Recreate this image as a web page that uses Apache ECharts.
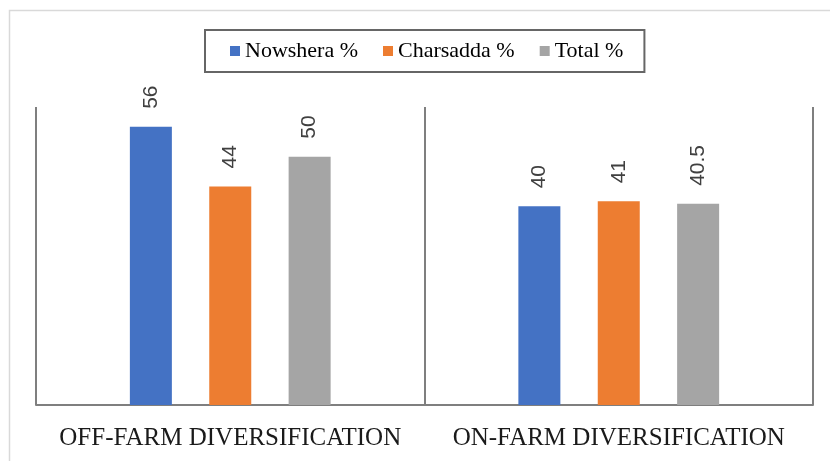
<!DOCTYPE html>
<html>
<head>
<meta charset="utf-8">
<script src="https://cdn.jsdelivr.net/npm/echarts@6/dist/echarts.min.js"></script>
<style>
html, body { margin: 0; padding: 0; background: #fff; }
#main { width: 830px; height: 461px; }
</style>
</head>
<body>
<div id="main"></div>
<script>
// categories and values
const categories = ['OFF-FARM DIVERSIFICATION', 'ON-FARM DIVERSIFICATION'];
const nowshera = [56, 40];
const charsadda = [44, 41];
const total = [50, 40.5];
const seriesNames = ['Nowshera %', 'Charsadda %', 'Total %'];
const colors = ['#4472C4', '#ED7D31', '#A5A5A5'];

let chart = echarts.init(document.getElementById('main'));

const barLabel = {
    show: true,
    position: 'top',
    distance: 18,
    rotate: 90,
    align: 'left',
    verticalAlign: 'middle',
    fontFamily: 'Liberation Sans',
    fontSize: 21,
    color: '#404040'
};

chart.setOption({
    animation: false,
    color: colors,
    graphic: [{
        // outer frame of the picture
        type: 'rect',
        shape: { x: 9.5, y: 10.5, width: 840, height: 470 },
        style: { fill: 'none', stroke: '#d9d9d9', lineWidth: 1.5 },
        silent: true
    }],
    legend: {
        data: seriesNames,
        left: 205,
        top: 30,
        icon: 'rect',
        itemWidth: 10,
        itemHeight: 10,
        itemGap: 25,
        padding: [9, 21, 9, 25],
        borderColor: '#666',
        borderWidth: 2,
        textStyle: {
            fontFamily: 'Liberation Serif',
            fontSize: 22,
            lineHeight: 24,
            color: '#000'
        }
    },
    grid: {
        left: 36,
        right: 17,
        top: 107,
        bottom: 56
    },
    xAxis: {
        type: 'category',
        data: categories,
        axisLine: { show: true, lineStyle: { color: '#7f7f7f', width: 2 } },
        axisTick: { show: false, interval: 0 },
        splitLine: { show: true, interval: 0, lineStyle: { color: '#7f7f7f', width: 2 } },
        axisLabel: {
            interval: 0,
            margin: 21,
            fontFamily: 'Liberation Serif',
            fontSize: 25,
            color: '#1a1a1a'
        }
    },
    yAxis: {
        type: 'value',
        min: 0,
        max: 60,
        show: false,
        splitLine: { show: false }
    },
    series: [
        { name: seriesNames[0], type: 'bar', barWidth: 42, barGap: '89%', data: nowshera, label: barLabel },
        { name: seriesNames[1], type: 'bar', barWidth: 42, barGap: '89%', data: charsadda, label: barLabel },
        { name: seriesNames[2], type: 'bar', barWidth: 42, barGap: '89%', data: total, label: barLabel }
    ]
});
</script>
</body>
</html>
